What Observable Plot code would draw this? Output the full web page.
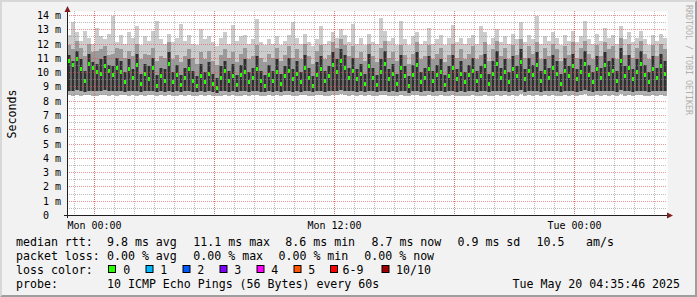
<!DOCTYPE html>
<html><head><meta charset="utf-8">
<script src="https://cdn.jsdelivr.net/npm/d3@7"></script>
<script src="https://cdn.jsdelivr.net/npm/@observablehq/plot@0.6"></script>
<style>
html,body{margin:0;padding:0;background:#F2F2F2;}
#chart{width:697px;height:297px;position:relative;overflow:hidden}
svg{display:block}
</style></head><body><div id="chart"></div>
<script>
// time range of the graph (30 hours), 12-minute columns
const startTime = new Date(Date.UTC(2025, 4, 18, 22, 39));
const endTime = new Date(Date.UTC(2025, 4, 20, 4, 39));
const stepMinutes = 12;

// per-column ping statistics (ms), read from the smoke
const medianMs = [
10.8,10.5,10.9,10.2,9.4,10.6,10.3,10.0,9.9,10.4,10.1,9.8,10.3,10.0,9.3,10.2,9.6,10.5,9.2,9.9,9.5,10.3,9.0,9.7,9.4,
10.6,9.3,9.8,9.1,9.6,10.2,9.4,9.0,9.7,9.3,9.9,9.2,8.9,9.6,10.1,9.4,9.7,9.1,9.8,10.0,9.3,9.6,10.2,9.4,9.0,
9.8,9.4,10.0,9.2,9.7,10.1,9.5,9.9,9.3,10.3,9.6,9.0,9.8,10.2,9.4,9.7,10.5,10.0,10.8,10.3,9.6,10.1,9.5,9.9,9.2,
10.4,9.6,9.1,10.0,10.6,9.5,9.9,9.2,10.3,9.7,9.0,9.8,10.5,9.3,9.6,10.2,9.4,9.8,10.0,9.1,9.7,10.3,9.5,9.9,9.3,
9.8,10.1,9.4,9.7,10.4,9.2,9.9,10.6,9.6,10.0,9.3,10.2,9.7,10.7,9.5,10.1,9.8,10.5,9.4,10.0,9.6,10.3,9.9,9.2,10.1,
9.7,10.4,9.5,10.0,10.6,9.8,9.3,10.2,9.6,10.5,9.9,10.1,9.4,10.8,9.7,10.3,9.5,10.0,10.6,9.8,9.3,10.2,9.6,10.4,9.9];
const coreTopMs = [
11.2,10.8,11.5,10.9,10.1,11.3,10.7,10.6,10.9,11.1,10.5,10.4,11.0,10.8,10.0,10.9,10.2,11.3,9.9,10.6,10.4,11.0,9.8,10.3,10.2,
11.4,10.0,10.5,9.8,10.3,10.9,10.1,9.7,10.6,10.0,10.7,9.9,9.6,10.4,10.8,10.1,10.6,9.8,10.5,10.9,10.0,10.3,11.1,10.1,9.8,
10.5,10.1,10.9,9.9,10.4,11.0,10.2,10.8,10.0,11.2,10.3,9.7,10.7,11.1,10.1,10.4,11.4,10.9,11.6,11.2,10.3,11.0,10.2,10.6,9.9,
11.3,10.3,9.8,10.9,11.5,10.2,10.6,9.9,11.2,10.4,9.7,10.5,11.4,10.0,10.3,11.1,10.1,10.5,10.9,9.8,10.4,11.2,10.2,10.8,10.0,
10.5,11.0,10.1,10.4,11.3,9.9,10.8,11.5,10.3,10.9,10.0,11.1,10.4,11.6,10.2,11.0,10.5,11.4,10.1,10.9,10.3,11.2,10.8,9.9,11.0,
10.4,11.3,10.2,10.9,11.5,10.5,10.0,11.1,10.3,11.4,10.8,11.0,10.1,11.7,10.4,11.2,10.2,10.9,11.5,10.5,10.0,11.1,10.3,11.3,10.8];
const p90Ms = [
11.9,11.6,12.2,11.7,11.1,12.0,11.4,11.5,11.6,11.8,11.2,11.3,11.7,11.6,11.0,11.5,11.1,12.0,10.9,11.3,11.2,11.7,10.8,11.1,11.0,
12.1,10.9,11.2,10.7,11.1,11.6,11.0,10.6,11.4,10.9,11.5,10.8,10.5,11.2,11.6,11.0,11.4,10.7,11.3,11.7,10.9,11.1,11.9,11.0,10.7,
11.3,11.0,11.7,10.8,11.2,11.8,11.0,11.6,10.9,12.0,11.1,10.6,11.5,11.9,10.9,11.2,12.1,11.7,12.3,11.9,11.1,11.8,11.0,11.4,10.8,
12.0,11.1,10.7,11.7,12.2,11.0,11.4,10.8,11.9,11.2,10.6,11.3,12.1,10.9,11.1,11.9,10.9,11.3,11.7,10.7,11.2,12.0,11.0,11.6,10.9,
11.3,11.8,10.9,11.2,12.1,10.8,11.6,12.2,11.1,11.7,10.9,11.9,11.2,12.3,11.0,11.8,11.3,12.1,10.9,11.7,11.1,12.0,11.6,10.8,11.8,
11.2,12.1,11.0,11.7,12.2,11.3,10.9,11.9,11.1,12.1,11.6,11.8,10.9,12.4,11.2,12.0,11.0,11.7,12.2,11.3,10.9,11.9,11.1,12.0,11.6];
const maxMs = [
12.6,13.5,12.8,12.2,12.9,12.4,12.0,13.1,12.5,12.3,12.7,13.9,12.1,12.6,12.0,12.8,12.4,13.2,11.9,12.5,12.2,12.9,13.6,12.3,12.0,
12.7,12.1,12.4,13.4,12.2,12.6,12.0,11.9,13.0,12.3,12.5,12.1,11.8,12.4,12.8,12.0,13.3,12.2,12.5,12.6,12.0,12.3,13.7,12.1,11.9,
12.3,12.0,12.5,11.9,12.2,12.6,13.5,12.4,12.0,12.7,12.1,11.8,12.3,13.2,12.0,12.2,12.8,12.4,13.0,12.6,12.1,13.4,12.0,12.4,11.9,
12.7,12.1,12.0,13.8,12.9,12.2,12.4,11.9,13.6,12.3,11.9,12.5,12.8,12.0,12.2,13.1,12.0,12.3,12.6,11.9,12.4,13.3,12.1,12.4,12.0,
12.4,12.6,12.0,13.2,12.8,11.9,12.4,13.0,12.1,12.5,12.0,12.7,12.3,13.5,12.1,12.6,12.3,13.9,12.0,12.5,12.2,12.8,12.4,11.9,12.6,
12.2,12.9,12.1,12.5,13.6,12.3,12.0,12.7,12.2,13.1,12.4,12.6,12.0,13.2,12.3,12.8,12.1,12.4,12.9,12.3,11.9,12.6,12.2,12.7,12.4];
const coreBottomMs = [
8.7,8.65,8.75,8.7,8.6,8.7,8.7,8.65,8.7,8.75,8.7,8.65,8.7,8.7,8.6,8.7,8.65,8.7,8.6,8.7,8.65,8.7,8.6,8.65,8.6,
8.7,8.6,8.65,8.6,8.65,8.7,8.6,8.6,8.65,8.6,8.7,8.6,8.55,8.65,8.7,8.6,8.65,8.6,8.65,8.7,8.6,8.65,8.7,8.6,8.6,
8.65,8.6,8.7,8.6,8.65,8.7,8.6,8.65,8.6,8.7,8.65,8.6,8.65,8.7,8.6,8.65,8.7,8.65,8.75,8.7,8.65,8.7,8.6,8.65,8.6,
8.7,8.65,8.6,8.65,8.7,8.6,8.65,8.6,8.7,8.65,8.55,8.65,8.7,8.6,8.65,8.7,8.6,8.65,8.7,8.6,8.65,8.7,8.6,8.65,8.6,
8.65,8.7,8.6,8.65,8.7,8.6,8.65,8.7,8.65,8.7,8.6,8.7,8.65,8.75,8.6,8.7,8.65,8.7,8.6,8.7,8.65,8.7,8.65,8.6,8.7,
8.65,8.7,8.6,8.7,8.75,8.65,8.6,8.7,8.65,8.7,8.65,8.7,8.6,8.75,8.65,8.7,8.6,8.7,8.7,8.65,8.6,8.7,8.65,8.7,8.65];
const minMs = [
8.4,8.35,8.4,8.3,8.4,8.4,8.35,8.3,8.4,8.4,8.35,8.4,8.3,8.4,8.4,8.35,8.4,8.3,8.4,8.35,8.4,8.4,8.3,8.4,8.35,
8.4,8.3,8.35,8.4,8.3,8.4,8.35,8.3,8.4,8.35,8.4,8.3,8.3,8.35,8.4,8.3,8.4,8.35,8.3,8.4,8.35,8.4,8.4,8.3,8.35,
8.4,8.35,8.4,8.3,8.4,8.4,8.3,8.35,8.4,8.4,8.35,8.3,8.4,8.4,8.3,8.35,8.4,8.4,8.45,8.4,8.35,8.4,8.3,8.4,8.35,
8.4,8.35,8.3,8.4,8.4,8.3,8.35,8.3,8.4,8.35,8.3,8.4,8.4,8.3,8.35,8.4,8.3,8.35,8.4,8.3,8.35,8.4,8.3,8.35,8.3,
8.35,8.4,8.3,8.35,8.4,8.3,8.35,8.4,8.35,8.4,8.3,8.4,8.35,8.45,8.3,8.4,8.35,8.4,8.3,8.4,8.35,8.4,8.35,8.3,8.4,
8.35,8.4,8.3,8.4,8.45,8.35,8.3,8.4,8.35,8.4,8.35,8.4,8.3,8.45,8.35,8.4,8.3,8.4,8.4,8.35,8.3,8.4,8.35,8.4,8.35];

// axis ticks and labels
const yTicks = [0,1,2,3,4,5,6,7,8,9,10,11,12,13,14];
const yTickLabels = ["0\u00a0\u00a0","1 m","2 m","3 m","4 m","5 m","6 m","7 m","8 m","9 m","10 m","11 m","12 m","13 m","14 m"];
const yMinor = [0.5,1.5,2.5,3.5,4.5,5.5,6.5,7.5,8.5,9.5,10.5,11.5,12.5,13.5];
const xLabelTimes = [new Date(Date.UTC(2025,4,19,0,0)), new Date(Date.UTC(2025,4,19,12,0)), new Date(Date.UTC(2025,4,20,0,0))];
const xLabels = ["Mon 00:00", "Mon 12:00", "Tue 00:00"];

// legend texts
const lossLabels = ["0","1","2","3","4","5","6-9","10/10"];
const lossColors = ["#26ff00","#00b8ff","#0059ff","#7e00ff","#ff00ff","#ff5500","#ff0000","#a10000"];
const medianLine = [["median rtt:",16],["9.8 ms avg",107],["11.1 ms max",193.3],["8.6 ms min",285.3],["8.7 ms now",371.5],["0.9 ms sd",457.5],["10.5",536.5],["am/s",586]];
const lossLine = [["packet loss:",16],["0.00 % avg",107],["0.00 % max",193.3],["0.00 % min",278.5],["0.00 % now",364.3]];
const probeLine = [["probe:",16],["10 ICMP Echo Pings (56 Bytes) every 60s",107],["Tue May 20 04:35:46 2025",512.5]];

const data = medianMs.map((m, i) => ({
  t0: new Date(+startTime + i * stepMinutes * 60000),
  t1: new Date(+startTime + (i + 1) * stepMinutes * 60000),
  lo: minMs[i], low: coreBottomMs[i], med: m, up: coreTopMs[i], p90: p90Ms[i], hi: maxMs[i]
}));

const hours = d3.utcHours(startTime, endTime);
const sixHours = d3.utcHour.every(6).range(startTime, endTime);

const MONO = "DejaVu Sans Mono";
const chart = Plot.plot({
  width: 697, height: 297,
  marginLeft: 67, marginRight: 30, marginTop: 11, marginBottom: 82,
  style: {background: "#F2F2F2", fontFamily: MONO, fontSize: "10px", color: "#000"},
  x: {type: "utc", domain: [startTime, endTime], round: true},
  y: {domain: [0, 14.28], round: true},
  marks: [
    Plot.frame({fill: "#ffffff", stroke: null}),
    Plot.rect(data, {x1: "t0", x2: "t1", y1: "lo", y2: "hi", fill: "#cccccc"}),
    Plot.rect(data, {x1: "t0", x2: "t1", y1: "lo", y2: "low", fill: "#b0b0b0"}),
    Plot.rect(data, {x1: "t0", x2: "t1", y1: "low", y2: "p90", fill: "#9a9a9a"}),
    Plot.rect(data, {x1: "t0", x2: "t1", y1: "low", y2: "up", fill: "#303030", insetLeft: 0.5, insetRight: 0.5}),
    Plot.rect(data, {x1: "t0", x2: "t1", y1: "med", y2: "med", fill: "#26ff00", insetLeft: 1, insetRight: 1, insetTop: -2, insetBottom: -2}),
    Plot.ruleX(hours, {stroke: "rgba(143,143,143,0.6)", strokeDasharray: "1,1"}),
    Plot.ruleY(yMinor, {stroke: "rgba(143,143,143,0.6)", strokeDasharray: "1,1"}),
    Plot.ruleX(sixHours, {stroke: "rgba(222,79,79,0.6)", strokeDasharray: "1,1"}),
    Plot.ruleY(yTicks.slice(1), {stroke: "rgba(222,79,79,0.6)", strokeDasharray: "1,1"}),
    Plot.axisY({ticks: yTicks, tickSize: 0, tickPadding: 6.5, fontFamily: MONO, fontSize: 10, fill: "#000",
      tickFormat: d => yTickLabels[yTicks.indexOf(d)]}),
    Plot.axisX({ticks: xLabelTimes, tickSize: 0, tickPadding: 6, fontFamily: MONO, fontSize: 10, fill: "#000",
      tickFormat: d => xLabels[xLabelTimes.findIndex(t => +t === +d)]})
  ]
});
document.getElementById("chart").appendChild(chart);

// decorations: border, axes with arrows, titles and legend
const svg = d3.select(chart);
const W = 697, H = 297;
svg.append("path").attr("d", `M0,${H} L2,${H-2} L2,2 L${W-2},2 L${W},0 L0,0 Z`).attr("fill", "#D8D8D8");
svg.append("path").attr("d", `M2,${H-2} L${W-2},${H-2} L${W-2},2 L${W},0 L${W},${H} L0,${H} Z`).attr("fill", "#9E9E9E");
svg.append("line").attr("x1", 64).attr("x2", 670).attr("y1", 215.5).attr("y2", 215.5).attr("stroke", "#1f1f1f");
svg.append("line").attr("x1", 67.5).attr("x2", 67.5).attr("y1", 218).attr("y2", 9).attr("stroke", "#1f1f1f");
svg.append("path").attr("d", "M667,212.5 L673,215.5 L667,218.5 Z").attr("fill", "#801f1f");
svg.append("path").attr("d", "M64.5,12 L67.5,6 L70.5,12 Z").attr("fill", "#801f1f");

svg.append("text").text("Seconds").attr("transform", "translate(11.5,114) rotate(-90)")
  .attr("text-anchor", "middle").attr("dominant-baseline", "central")
  .attr("font-family", MONO).attr("font-size", 11.6).attr("fill", "#000");
svg.append("text").text("RRDTOOL / TOBI OETIKER").attr("transform", "translate(685.5,5) rotate(90)")
  .attr("text-anchor", "start")
  .attr("font-family", MONO).attr("font-size", 8.3).attr("fill", "#b0b0b0");

function line(items, y) {
  for (const [s, x] of items) {
    svg.append("text").text(s).attr("x", x).attr("y", y).attr("text-anchor", "start")
      .attr("font-family", MONO).attr("font-size", 11.6).attr("fill", "#000")
      .style("white-space", "pre");
  }
}
line(medianLine, 245.5);
line(lossLine, 259.5);
line([["loss color:", 16]], 273.5);
line(probeLine, 287.5);
const boxX = [108, 145.5, 182.5, 219.5, 256.5, 293.5, 330, 381.5];
const labX = [123.3, 160.3, 197.3, 234.3, 271.3, 308.3, 342.5, 396];
lossLabels.forEach((lab, i) => {
  svg.append("rect").attr("x", boxX[i] + 0.5).attr("y", 265.5).attr("width", 7).attr("height", 7)
    .attr("fill", lossColors[i]).attr("stroke", "#000").attr("stroke-width", 1);
  svg.append("text").text(lab).attr("x", labX[i]).attr("y", 273.5).attr("text-anchor", "start")
    .attr("font-family", MONO).attr("font-size", 11.6).attr("fill", "#000");
});
</script></body></html>
